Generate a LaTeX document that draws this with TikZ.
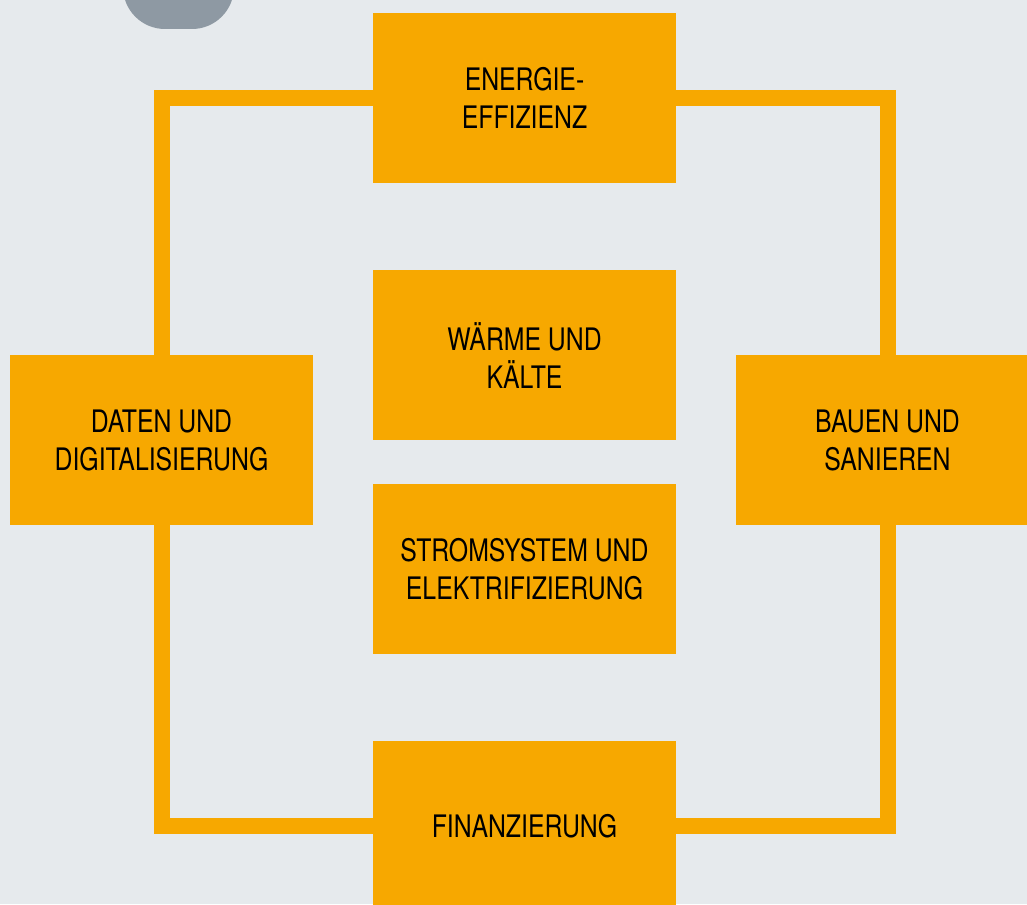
\documentclass[tikz,border=0pt]{standalone}
\usepackage{fontspec}
\setmainfont{TeX Gyre Heros}[FakeStretch=0.8]
\usetikzlibrary{positioning, backgrounds}

\definecolor{bggray}{HTML}{E6EAED}
\definecolor{bluegray}{HTML}{8E99A3}
\definecolor{amber}{HTML}{F7A800}

\begin{document}
\begin{tikzpicture}[x=1pt, y=-1pt]
  \newcommand\boxgap{87pt}
  \newcommand\midgap{43pt}

  \tikzset{fieldbox/.style={fill=amber, minimum width=303pt, minimum height=170pt, inner sep=0pt, align=center, text=black, font=\fontsize{31}{38}\selectfont}}
  \tikzset{frameline/.style={draw=amber, line width=16pt}}

  \useasboundingbox (0,0) rectangle (1027,904);
  \clip (0,0) rectangle (1027,904);

  % fields
  \node[fieldbox] at (524.5, 98) (energie) {ENERGIE-\\EFFIZIENZ};
  \node[fieldbox, below=\boxgap of energie] (waerme) {WÄRME UND\\KÄLTE};
  \node[fieldbox, below=\midgap of waerme] (strom) {STROMSYSTEM UND\\ELEKTRIFIZIERUNG};
  \node[fieldbox, below=\boxgap of strom] (finanz) {FINANZIERUNG};
  \node[fieldbox] at (161.5, 440) (daten) {DATEN UND\\DIGITALISIERUNG};
  \node[fieldbox] at (887.5, 440) (bauen) {BAUEN UND\\SANIEREN};

  % frame
  \begin{scope}[on background layer]
    \fill[bggray] (0,0) rectangle (1027,904);
    \fill[bluegray, rounded corners=42pt] (123,-90) rectangle (234,29);
    \draw[frameline] (energie) -| (daten);
    \draw[frameline] (daten) |- (finanz);
    \draw[frameline] (finanz) -| (bauen);
    \draw[frameline] (bauen) |- (energie);
  \end{scope}
\end{tikzpicture}
\end{document}
